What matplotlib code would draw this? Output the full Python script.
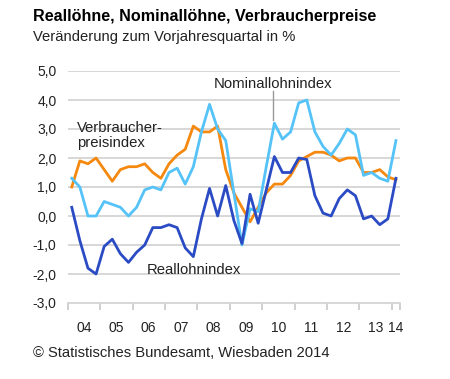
import numpy as np
import matplotlib
matplotlib.use("Agg")
import matplotlib.pyplot as plt

plt.rcParams['font.family'] = ['Liberation Sans', 'DejaVu Sans']

# quartals 2004 Q1 .. 2014 Q1
verbraucher = [1.0, 1.9, 1.8, 2.0, 1.6, 1.2, 1.6, 1.7, 1.7, 1.8,
               1.5, 1.3, 1.8, 2.1, 2.3, 3.1, 2.9, 2.9, 3.1, 1.6,
               0.8, 0.3, -0.2, 0.3, 0.8, 1.1, 1.1, 1.4, 1.9, 2.05,
               2.2, 2.2, 2.1, 1.9, 2.0, 2.0, 1.5, 1.5, 1.6, 1.35, 1.25]
nominal = [1.3, 1.0, 0.0, 0.0, 0.5, 0.4, 0.3, 0.0, 0.3, 0.9,
           1.0, 0.9, 1.5, 1.65, 1.1, 1.7, 2.9, 3.85, 3.0, 2.6,
           0.8, -1.0, 0.25, 0.15, 1.7, 3.2, 2.65, 2.9, 3.9, 4.0,
           2.9, 2.4, 2.1, 2.5, 3.0, 2.8, 1.4, 1.5, 1.3, 1.2, 2.6]
real = [0.3, -0.85, -1.8, -2.0, -1.05, -0.8, -1.3, -1.6, -1.25, -1.0,
        -0.4, -0.4, -0.3, -0.4, -1.1, -1.4, -0.1, 0.95, 0.0, 1.05,
        -0.15, -0.95, 0.75, -0.25, 0.9, 2.05, 1.5, 1.5, 2.0, 1.95,
        0.7, 0.1, 0.0, 0.6, 0.9, 0.7, -0.1, 0.0, -0.3, -0.1, 1.3]
years = ['04', '05', '06', '07', '08', '09', '10', '11', '12', '13', '14']
yticks = [5, 4, 3, 2, 1, 0, -1, -2, -3]

x = np.arange(len(real)) + 0.5

fig = plt.figure(figsize=(4.5, 3.79), dpi=100)
ax = fig.add_axes([67.7/450, 1 - 303/379, 332.3/450, 232/379])

for y in yticks[:-1]:
    ax.axhline(y, color='#d4d4d4', lw=1.3, zorder=0)

ax.plot(x, verbraucher, color='#f5890f', lw=2)
ax.plot(x, nominal, color='#55c3f8', lw=2)
ax.plot(x, real, color='#2a4bc4', lw=2)

ax.set_xlim(0, 41)
ax.set_ylim(-3, 5)
ax.set_yticks(yticks)
ax.set_yticklabels([f'{v},0' for v in yticks])
ax.set_xticks(list(range(0, 41, 4)) + [41])
ax.set_xticklabels([])
ax.set_xticks([2 + 4 * i for i in range(10)] + [40.5], minor=True)
ax.set_xticklabels(years, minor=True)
ax.tick_params(axis='x', which='major', length=5, color='#c8c8c8', width=1.2)
ax.tick_params(axis='x', which='minor', length=0, pad=13, labelsize=10, labelcolor='#222222')
ax.tick_params(axis='y', length=0, pad=8, labelsize=10, labelcolor='#222222')
for s in ['top', 'right', 'left']:
    ax.spines[s].set_visible(False)
ax.spines['bottom'].set_color('#d4d4d4')
ax.spines['bottom'].set_linewidth(1.3)

ax.text(18, 4.55, 'Nominallohnindex', fontsize=10.7, color='#222222', va='center')
ax.plot([25.3, 25.3], [4.3, 3.3], color='#999999', lw=1)
ax.text(1.1, 2.78, 'Verbraucher-\npreisindex', fontsize=10.7, color='#222222',
        va='center', linespacing=1.15)
ax.text(9.7, -1.87, 'Reallohnindex', fontsize=10.7, color='#222222', va='center')

fig.text(33/450, 1 - 17/379, 'Reallöhne, Nominallöhne, Verbraucherpreise',
         fontsize=11.6, fontweight='bold', va='center')
fig.text(33/450, 1 - 37/379, 'Veränderung zum Vorjahresquartal in %',
         fontsize=10.6, va='center', color='#222222')
fig.text(33/450, 1 - 353/379, '© Statistisches Bundesamt, Wiesbaden 2014',
         fontsize=10.6, va='center', color='#222222')

fig.savefig('out.png', dpi=100)
